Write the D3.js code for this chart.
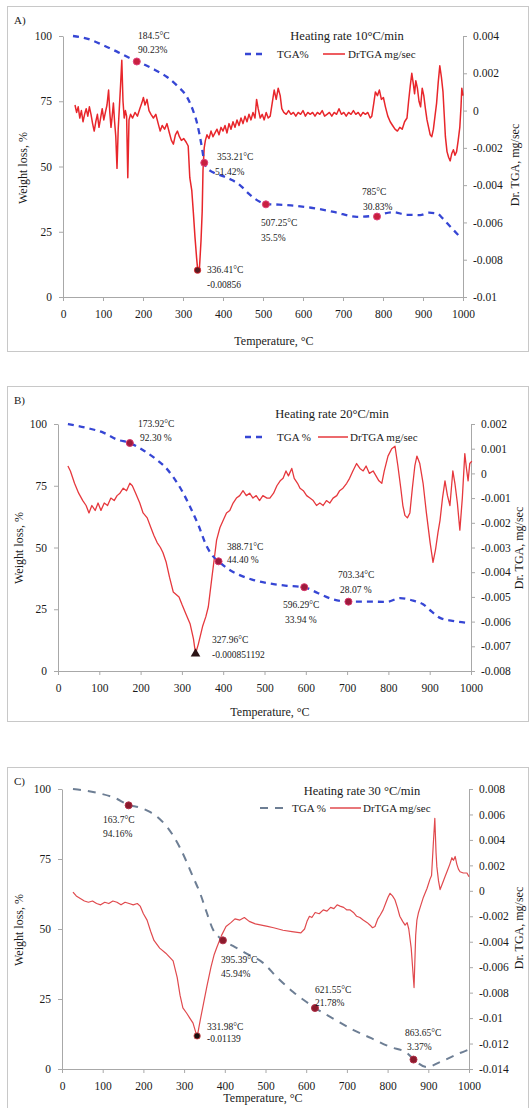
<!DOCTYPE html>
<html>
<head>
<meta charset="utf-8">
<script src="https://cdn.jsdelivr.net/npm/d3@7"></script>
<style>
  body { margin: 0; background: #fff; }
  svg { display: block; font-family: "Liberation Serif", "Times New Roman", serif; }
</style>
</head>
<body>
<svg id="chart" width="531" height="1108"></svg>
<script>
// ---- shared axis data ----
const xTicks = [0, 100, 200, 300, 400, 500, 600, 700, 800, 900, 1000];
const weightTicks = [0, 25, 50, 75, 100];

// ---- panel A : 10 °C/min ----
const tgaA = [[25,100],[62,98.9],[100,96.5],[135,94],[170,91.3],[200,89.3],[230,87],[260,84.3],[285,81],[310,76.6],[325,71.5],[335,66.7],[341,62.5],[347,57.5],[353,52],[360,49.5],[375,47.8],[400,46.3],[425,44.6],[445,42.5],[465,39.5],[492,36.5],[510,35.6],[540,35.4],[570,35.1],[620,34.2],[680,32.5],[735,30.7],[780,31.2],[825,32.5],[860,31.5],[893,31.4],[915,32.3],[935,32],[950,30],[968,27],[993,23]];
const dtgA = [[30,0.0003],[34,-0.0001],[38,0.0002],[42,-0.0004],[46,0.0000],[50,-0.0006],[54,-0.0002],[58,0.0001],[62,-0.0003],[66,0.0002],[70,-0.0002],[74,-0.0007],[78,-0.0011],[82,-0.0006],[86,-0.0002],[90,-0.0009],[94,-0.0004],[98,0.0001],[102,-0.0005],[106,-0.0001],[110,0.0003],[114,0.0011],[117,-0.0001],[120,-0.0009],[123,-0.0003],[126,0.0004],[129,-0.0006],[132,-0.0014],[135,-0.0031],[138,-0.0010],[141,0.0002],[144,0.0014],[147,0.0027],[150,0.0005],[153,-0.0004],[156,0.0000],[159,-0.0003],[162,-0.0036],[165,-0.0005],[169,-0.0002],[174,-0.0004],[180,-0.0001],[186,-0.0003],[192,0.0001],[197,0.0004],[201,0.0007],[205,0.0003],[210,0.0006],[215,0.0000],[220,-0.0002],[226,-0.0004],[232,-0.0002],[238,-0.0007],[243,-0.0011],[248,-0.0008],[254,-0.0010],[260,-0.0007],[266,-0.0012],[271,-0.0016],[276,-0.0018],[281,-0.0013],[286,-0.0011],[291,-0.0014],[296,-0.0016],[302,-0.0015],[308,-0.0017],[313,-0.0019],[317,-0.0036],[322,-0.0043],[326,-0.0055],[330,-0.0068],[334,-0.0079],[337,-0.0086],[341,-0.0085],[345,-0.0070],[348,-0.0054],[350,-0.0032],[353,-0.0020],[356,-0.0016],[360,-0.0013],[365,-0.0015],[370,-0.0011],[375,-0.0014],[380,-0.0012],[385,-0.0010],[390,-0.0013],[395,-0.0009],[400,-0.0011],[405,-0.0008],[410,-0.0012],[415,-0.0007],[420,-0.0010],[425,-0.0006],[430,-0.0009],[435,-0.0005],[440,-0.0008],[445,-0.0004],[450,-0.0007],[455,-0.0003],[460,-0.0006],[465,-0.0002],[470,-0.0005],[475,-0.0001],[480,-0.0004],[484,0.0006],[488,0.0001],[493,-0.0004],[498,-0.0002],[503,-0.0005],[508,-0.0001],[513,-0.0004],[518,-0.0003],[523,0.0004],[528,0.0011],[533,0.0006],[538,0.0012],[543,0.0008],[547,0.0001],[552,-0.0001],[558,-0.0002],[564,0.0000],[570,-0.0002],[576,-0.0001],[582,-0.0003],[588,-0.0001],[594,-0.0002],[600,0.0000],[606,-0.0003],[612,-0.0001],[618,-0.0002],[624,-0.0001],[630,-0.0003],[636,-0.0001],[642,-0.0002],[648,0.0000],[654,-0.0003],[660,-0.0002],[666,-0.0001],[672,-0.0003],[678,-0.0001],[684,-0.0002],[690,0.0001],[696,-0.0002],[702,-0.0001],[708,-0.0003],[714,-0.0001],[720,-0.0002],[726,0.0000],[732,-0.0002],[738,-0.0001],[744,-0.0003],[750,-0.0001],[756,-0.0002],[762,-0.0001],[768,-0.0004],[772,-0.0003],[777,0.0004],[781,0.0010],[786,0.0008],[791,0.0011],[796,0.0006],[801,0.0007],[806,0.0002],[812,-0.0003],[818,-0.0006],[824,-0.0008],[830,-0.0010],[836,-0.0011],[842,-0.0009],[848,-0.0010],[854,-0.0006],[860,-0.0004],[864,0.0005],[868,0.0013],[872,0.0020],[876,0.0014],[879,0.0009],[882,0.0016],[886,0.0012],[890,0.0005],[894,0.0002],[898,0.0012],[902,0.0008],[906,0.0001],[910,-0.0005],[914,-0.0009],[918,-0.0013],[922,-0.0014],[926,-0.0010],[930,-0.0003],[934,0.0004],[938,0.0015],[942,0.0024],[946,0.0018],[950,0.0010],[953,-0.0002],[956,-0.0014],[960,-0.0022],[964,-0.0025],[968,-0.0027],[972,-0.0023],[976,-0.0021],[980,-0.0024],[984,-0.0022],[988,-0.0016],[992,-0.0009],[995,0.0002],[997,0.0012],[1000,0.0008]];
const rateTicksA = [0.004, 0.002, 0, -0.002, -0.004, -0.006, -0.008, -0.01];
const rateLabelsA = ["0.004", "0.002", "0", "-0.002", "-0.004", "-0.006", "-0.008", "-0.01"];
const tgaMarksA = [[184.5, 90.23], [353.21, 51.42], [507.25, 35.5], [785, 30.83]];
const tgaNotesA = [["184.5°C", "90.23%"], ["353.21°C", "51.42%"], ["507.25°C", "35.5%"], ["785°C", "30.83%"]];
const dtgMinA = [336.41, -0.00856];
const dtgNoteA = ["336.41°C", "-0.00856"];

// ---- panel B : 20 °C/min ----
const tgaB = [[24,100],[70,98.4],[110,96.5],[143,93.7],[174,92.3],[210,89],[240,85.4],[260,82.5],[279,78.5],[300,73],[320,66.4],[340,59],[360,50.5],[375,46.5],[389,44.4],[410,41.5],[440,38.8],[470,37],[506,35.6],[550,34.6],[596,33.9],[630,31.5],[660,29.3],[703,28.1],[750,28.1],[796,28],[828,29.5],[860,28.5],[884,27],[905,24],[925,21.5],[955,20.3],[990,19.5]];
const dtgB = [[24,0.0003],[30,0.0001],[40,-0.0004],[50,-0.0008],[60,-0.0011],[68,-0.0013],[75,-0.0016],[82,-0.0013],[90,-0.0015],[97,-0.0012],[104,-0.0015],[112,-0.0012],[120,-0.0013],[128,-0.0010],[136,-0.0011],[143,-0.0009],[150,-0.0008],[158,-0.0006],[166,-0.0007],[174,-0.0004],[180,-0.0005],[188,-0.0008],[198,-0.0012],[206,-0.0016],[216,-0.0018],[225,-0.0022],[232,-0.0025],[240,-0.0028],[248,-0.0030],[254,-0.0032],[262,-0.0036],[270,-0.0042],[279,-0.0048],[286,-0.0049],[293,-0.0050],[300,-0.0053],[310,-0.0057],[320,-0.0061],[328,-0.0067],[333,-0.0073],[340,-0.0069],[350,-0.0062],[358,-0.0058],[364,-0.0054],[372,-0.0043],[378,-0.0035],[384,-0.0027],[392,-0.0022],[400,-0.0019],[408,-0.0016],[416,-0.0015],[424,-0.0012],[432,-0.0010],[440,-0.0009],[448,-0.0007],[456,-0.0009],[464,-0.0008],[472,-0.0010],[480,-0.0009],[488,-0.0011],[496,-0.0009],[506,-0.0010],[513,-0.0010],[522,-0.0008],[530,-0.0005],[538,-0.0003],[545,-0.0002],[552,0.0001],[558,-0.0001],[566,0.0002],[572,-0.0002],[580,-0.0004],[586,-0.0006],[594,-0.0007],[602,-0.0009],[610,-0.0010],[618,-0.0011],[626,-0.0013],[634,-0.0012],[642,-0.0013],[650,-0.0011],[658,-0.0012],[666,-0.0010],[675,-0.0009],[682,-0.0007],[690,-0.0006],[699,-0.0004],[706,-0.0002],[714,0.0001],[723,0.0004],[731,0.0002],[739,0.0001],[746,0.0003],[754,0.0000],[763,0.0001],[770,-0.0001],[777,-0.0003],[784,-0.0004],[790,0.0001],[799,0.0007],[808,0.0010],[816,0.0011],[823,0.0003],[830,-0.0006],[835,-0.0013],[840,-0.0017],[846,-0.0018],[852,-0.0016],[858,-0.0006],[864,0.0003],[869,0.0007],[876,0.0004],[884,-0.0004],[892,-0.0016],[901,-0.0028],[908,-0.0036],[914,-0.0031],[920,-0.0024],[925,-0.0019],[931,-0.0010],[937,-0.0003],[943,-0.0009],[949,-0.0013],[956,0.0001],[961,-0.0004],[967,-0.0012],[973,-0.0023],[979,-0.0010],[985,0.0008],[989,0.0002],[993,-0.0003],[997,0.0004],[1002,0.0005]];
const rateTicksB = [0.002, 0.001, 0, -0.001, -0.002, -0.003, -0.004, -0.005, -0.006, -0.007, -0.008];
const rateLabelsB = ["0.002", "0.001", "0", "-0.001", "-0.002", "-0.003", "-0.004", "-0.005", "-0.006", "-0.007", "-0.008"];
const tgaMarksB = [[173.92, 92.3], [388.71, 44.4], [596.29, 33.94], [703.34, 28.07]];
const tgaNotesB = [["173.92°C", "92.30 %"], ["388.71°C", "44.40 %"], ["596.29°C", "33.94 %"], ["703.34°C", "28.07 %"]];
const dtgMinB = [333, -0.0073];
const dtgNoteB = ["327.96°C", "-0.000851192"];

// ---- panel C : 30 °C/min ----
const tgaC = [[27,100],[60,99.4],[93,98.4],[130,96.8],[164,94.3],[190,93.4],[216,91.8],[240,89.3],[258,86.5],[290,79],[322,68.6],[340,62.5],[356,55.7],[371,49.8],[385,47.2],[395,45.9],[420,44],[450,41.5],[494,37.9],[530,32.5],[568,27.5],[600,24],[622,21.8],[660,18.5],[715,14],[760,11],[806,7.9],[848,5.7],[864,3.4],[897,0.7],[929,2.5],[978,5.7],[1000,7]];
const dtgC = [[27,-0.0001],[35,-0.0004],[45,-0.0006],[55,-0.0008],[65,-0.0009],[75,-0.0008],[85,-0.0010],[95,-0.0011],[105,-0.0009],[115,-0.0010],[125,-0.0008],[135,-0.0009],[145,-0.0011],[155,-0.0009],[165,-0.0010],[175,-0.0011],[185,-0.0010],[192,-0.0012],[200,-0.0018],[209,-0.0023],[218,-0.0032],[226,-0.0039],[240,-0.0045],[255,-0.0049],[273,-0.0055],[283,-0.0068],[290,-0.0082],[297,-0.0092],[306,-0.0096],[314,-0.0100],[322,-0.0104],[332,-0.0115],[340,-0.0101],[348,-0.0088],[356,-0.0075],[366,-0.0060],[374,-0.0050],[381,-0.0044],[392,-0.0035],[403,-0.0028],[415,-0.0025],[425,-0.0022],[437,-0.0023],[448,-0.0021],[460,-0.0024],[475,-0.0026],[490,-0.0027],[505,-0.0028],[520,-0.0029],[543,-0.0031],[565,-0.0032],[587,-0.0033],[596,-0.0030],[602,-0.0024],[608,-0.0020],[614,-0.0021],[622,-0.0017],[632,-0.0018],[642,-0.0015],[651,-0.0016],[660,-0.0013],[668,-0.0014],[676,-0.0011],[683,-0.0012],[692,-0.0013],[700,-0.0015],[708,-0.0015],[716,-0.0017],[724,-0.0020],[732,-0.0021],[740,-0.0023],[750,-0.0025],[757,-0.0027],[763,-0.0029],[769,-0.0028],[776,-0.0022],[782,-0.0019],[789,-0.0015],[795,-0.0010],[801,-0.0005],[806,-0.0002],[812,-0.0004],[818,-0.0007],[824,-0.0013],[830,-0.0020],[837,-0.0024],[843,-0.0027],[848,-0.0025],[852,-0.0030],[858,-0.0045],[865,-0.0076],[869,-0.0035],[872,-0.0023],[876,-0.0017],[880,-0.0013],[888,-0.0005],[897,0.0002],[904,0.0009],[908,0.0012],[912,0.0035],[916,0.0057],[919,0.0030],[921,0.0019],[925,0.0008],[929,0.0001],[935,0.0006],[941,0.0011],[947,0.0016],[953,0.0021],[958,0.0026],[962,0.0024],[966,0.0027],[970,0.0021],[974,0.0017],[978,0.0015],[986,0.0014],[995,0.0014],[1000,0.0011]];
const rateTicksC = [0.008, 0.006, 0.004, 0.002, 0, -0.002, -0.004, -0.006, -0.008, -0.01, -0.012, -0.014];
const rateLabelsC = ["0.008", "0.006", "0.004", "0.002", "0", "-0.002", "-0.004", "-0.006", "-0.008", "-0.01", "-0.012", "-0.014"];
const tgaMarksC = [[163.7, 94.16], [395.39, 45.94], [621.55, 21.78], [863.65, 3.37]];
const tgaNotesC = [["163.7°C", "94.16%"], ["395.39°C", "45.94%"], ["621.55°C", "21.78%"], ["863.65°C", "3.37%"]];
const dtgMinC = [331.98, -0.0114];
const dtgNoteC = ["331.98°C", "-0.01139"];

const svg = d3.select("#chart");

// layout + style for each panel
const panels = [
  {
    tag: "A)", title: "Heating rate 10°C/min",
    box: [7, 6, 528, 351], x0: 63, x1: 463, yTop: 36, yBot: 297,
    rateTicks: rateTicksA, rateLabels: rateLabelsA,
    tga: tgaA, dtg: dtgA, marks: tgaMarksA, notes: tgaNotesA, minPt: dtgMinA, minNote: dtgNoteA,
    notePos: [[138, 39, 138, 53], [217, 160, 215, 175], [261, 226, 261, 241], [362, 195, 363, 210]],
    minPos: [207, 273, 207, 288],
    tgaColor: "#3646d4", tgaDash: "6,5", tgaWidth: 2.3,
    dtgColor: "#e8262b", dtgWidth: 1.5,
    markFill: "#c8203f", markStroke: "#e0407a", minShape: "circle", minFill: "#5a1a22",
    titleX: 347, titleY: 40, legY: 54, legTga: [245, 267, 277], legLabelTga: "TGA%", legDtg: [323, 345, 348],
    tempTitleY: 345, tempTitleX: 274, wlX: 27, wlY: 168, drX: 519, drY: 165
  },
  {
    tag: "B)", title: "Heating rate 20°C/min",
    box: [7, 386, 528, 721], x0: 58, x1: 471, yTop: 424, yBot: 671,
    rateTicks: rateTicksB, rateLabels: rateLabelsB,
    tga: tgaB, dtg: dtgB, marks: tgaMarksB, notes: tgaNotesB, minPt: dtgMinB, minNote: dtgNoteB,
    notePos: [[138, 427, 140, 441], [227, 550, 227, 563], [283, 608, 285, 623], [338, 578, 340, 593]],
    minPos: [212, 643, 212, 658],
    tgaColor: "#3646d4", tgaDash: "6,5", tgaWidth: 2.3,
    dtgColor: "#e6383d", dtgWidth: 1.3,
    markFill: "#9c1b3c", markStroke: "#d8356a", minShape: "triangle", minFill: "#2a1416",
    titleX: 332, titleY: 418, legY: 437, legTga: [245, 263, 277], legLabelTga: "TGA %", legDtg: [318, 348, 350],
    tempTitleY: 716, tempTitleX: 270, wlX: 23, wlY: 548, drX: 523, drY: 548
  },
  {
    tag: "C)", title: "Heating rate 30 °C/min",
    box: [7, 767, 528, 1112], x0: 62, x1: 469, yTop: 789, yBot: 1069,
    rateTicks: rateTicksC, rateLabels: rateLabelsC,
    tga: tgaC, dtg: dtgC, marks: tgaMarksC, notes: tgaNotesC, minPt: dtgMinC, minNote: dtgNoteC,
    notePos: [[103, 823, 103, 837], [221, 963, 221, 977], [315, 993, 315, 1006], [405, 1036, 407, 1050]],
    minPos: [207, 1030, 207, 1042],
    tgaColor: "#6d7e94", tgaDash: "8,7", tgaWidth: 2,
    dtgColor: "#e04a4e", dtgWidth: 1.2,
    markFill: "#8a1a2c", markStroke: "#b03048", minShape: "circle", minFill: "#1a1010",
    titleX: 362, titleY: 795, legY: 808, legTga: [260, 286, 292], legLabelTga: "TGA %", legDtg: [330, 361, 363],
    tempTitleY: 1102, tempTitleX: 263, wlX: 23, wlY: 930, drX: 523, drY: 928
  }
];

function drawPanel(p) {
  const g = svg.append("g");

  g.append("rect")
    .attr("x", p.box[0] + 0.5).attr("y", p.box[1] + 0.5)
    .attr("width", p.box[2] - p.box[0]).attr("height", p.box[3] - p.box[1])
    .attr("fill", "none").attr("stroke", "#c8c8c8");

  const x = d3.scaleLinear().domain([0, 1000]).range([p.x0, p.x1]);
  const yW = d3.scaleLinear().domain([0, 100]).range([p.yBot, p.yTop]);
  const yR = d3.scaleLinear().domain([d3.min(p.rateTicks), d3.max(p.rateTicks)]).range([p.yBot, p.yTop]);

  // axes
  const xAxis = g.append("g").attr("transform", `translate(0,${p.yBot})`)
    .call(d3.axisBottom(x).tickValues(xTicks).tickFormat(d3.format("d")).tickSize(4).tickSizeOuter(0).tickPadding(9));
  const yAxisL = g.append("g").attr("transform", `translate(${p.x0},0)`)
    .call(d3.axisLeft(yW).tickValues(weightTicks).tickSize(4).tickSizeOuter(0).tickPadding(7));
  const yAxisR = g.append("g").attr("transform", `translate(${p.x1},0)`)
    .call(d3.axisRight(yR).tickValues(p.rateTicks).tickFormat((d, i) => p.rateLabels[i]).tickSize(4).tickSizeOuter(0).tickPadding(6));

  [xAxis, yAxisL, yAxisR].forEach(a => {
    a.select(".domain").attr("stroke", "#a8a8a8");
    a.selectAll(".tick line").attr("stroke", "#a8a8a8");
    a.selectAll(".tick text").attr("fill", "#1a1a1a").style("font-size", "11.5px")
      .style("font-family", "'Liberation Serif', serif");
  });

  // DrTGA curve (right axis)
  const dtgLine = d3.line().x(d => x(d[0])).y(d => yR(d[1]));
  g.append("path").datum(p.dtg)
    .attr("d", dtgLine).attr("fill", "none")
    .attr("stroke", p.dtgColor).attr("stroke-width", p.dtgWidth).attr("stroke-linejoin", "round");

  // TGA curve (left axis)
  const tgaLine = d3.line().x(d => x(d[0])).y(d => yW(d[1])).curve(d3.curveMonotoneX);
  g.append("path").datum(p.tga)
    .attr("d", tgaLine).attr("fill", "none")
    .attr("stroke", p.tgaColor).attr("stroke-width", p.tgaWidth).attr("stroke-dasharray", p.tgaDash);

  // TGA markers + notes
  g.selectAll(".mk").data(p.marks).enter().append("circle")
    .attr("cx", d => x(d[0])).attr("cy", d => yW(d[1])).attr("r", 3.5)
    .attr("fill", p.markFill).attr("stroke", p.markStroke).attr("stroke-width", 1);

  const noteText = (px, py, s) => g.append("text").attr("x", px).attr("y", py)
    .attr("fill", "#1a1a1a").style("font-size", "9.5px").text(s);

  p.notes.forEach((n, i) => {
    const pos = p.notePos[i];
    noteText(pos[0], pos[1], n[0]);
    noteText(pos[2], pos[3], n[1]);
  });

  // DrTGA minimum marker + note
  const mx = x(p.minPt[0]), my = yR(p.minPt[1]);
  if (p.minShape === "triangle") {
    g.append("path").attr("d", d3.symbol().type(d3.symbolTriangle).size(40)())
      .attr("transform", `translate(${mx},${my})`).attr("fill", p.minFill);
  } else {
    g.append("circle").attr("cx", mx).attr("cy", my).attr("r", 3.2)
      .attr("fill", p.minFill).attr("stroke", p.dtgColor).attr("stroke-width", 0.8);
  }
  noteText(p.minPos[0], p.minPos[1], p.minNote[0]);
  noteText(p.minPos[2], p.minPos[3], p.minNote[1]);

  // title + legend
  g.append("text").attr("x", p.titleX).attr("y", p.titleY).attr("text-anchor", "middle")
    .attr("fill", "#1a1a1a").style("font-size", "12.5px").text(p.title);
  g.append("line").attr("x1", p.legTga[0]).attr("x2", p.legTga[1]).attr("y1", p.legY).attr("y2", p.legY)
    .attr("stroke", p.tgaColor).attr("stroke-width", p.tgaWidth).attr("stroke-dasharray", p.tgaDash);
  g.append("text").attr("x", p.legTga[2]).attr("y", p.legY + 4)
    .attr("fill", "#1a1a1a").style("font-size", "11px").text(p.legLabelTga);
  g.append("line").attr("x1", p.legDtg[0]).attr("x2", p.legDtg[1]).attr("y1", p.legY).attr("y2", p.legY)
    .attr("stroke", p.dtgColor).attr("stroke-width", 1.5);
  g.append("text").attr("x", p.legDtg[2]).attr("y", p.legY + 4)
    .attr("fill", "#1a1a1a").style("font-size", "11px").text("DrTGA mg/sec");

  // panel tag and axis titles
  g.append("text").attr("x", p.box[0] + 7).attr("y", p.box[1] + 18)
    .attr("fill", "#1a1a1a").style("font-size", "11px").text(p.tag);
  g.append("text").attr("x", p.tempTitleX).attr("y", p.tempTitleY).attr("text-anchor", "middle")
    .attr("fill", "#1a1a1a").style("font-size", "12px").text("Temperature, °C");
  g.append("text").attr("transform", `translate(${p.wlX},${p.wlY}) rotate(-90)`).attr("text-anchor", "middle")
    .attr("fill", "#1a1a1a").style("font-size", "12px").text("Weight loss, %");
  g.append("text").attr("transform", `translate(${p.drX},${p.drY}) rotate(-90)`).attr("text-anchor", "middle")
    .attr("fill", "#1a1a1a").style("font-size", "12px").text("Dr. TGA, mg/sec");
}

panels.forEach(drawPanel);
</script>
</body>
</html>
